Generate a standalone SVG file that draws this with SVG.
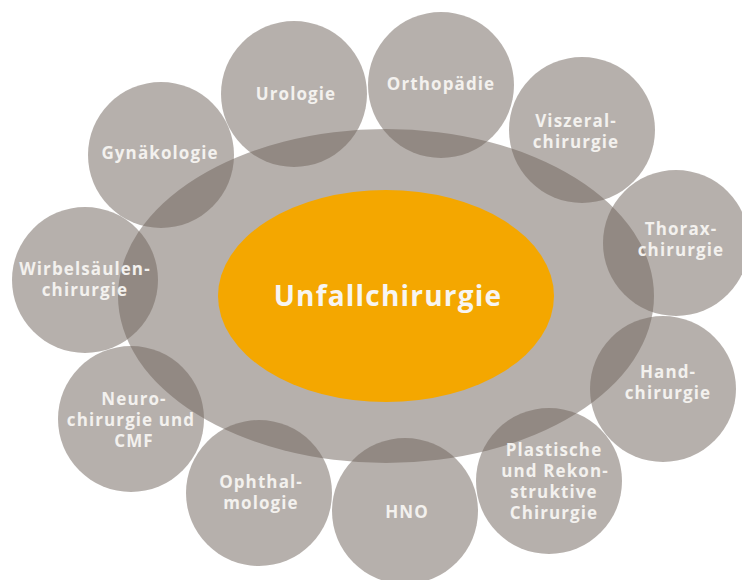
<svg xmlns="http://www.w3.org/2000/svg" width="742" height="580" viewBox="0 0 742 580">
<style>
.bub{fill:#70645c;fill-opacity:0.51}
.lbl{font-family:"Open Sans","Liberation Sans",sans-serif;font-weight:700;font-size:17px;letter-spacing:1.1px;fill:#f3f1ee;text-anchor:middle}
.main{font-family:"Open Sans","Liberation Sans",sans-serif;font-weight:700;font-size:28px;letter-spacing:1.2px;fill:#f7f5f2;text-anchor:middle}
</style>
<rect width="742" height="580" fill="#ffffff"/>
<g id="outer"><ellipse class="bub" cx="386" cy="296" rx="268" ry="167"/></g>
<g id="urologie"><circle class="bub" cx="294" cy="94" r="73"/><text class="lbl" x="296" y="100">Urologie</text></g>
<g id="orthopaedie"><circle class="bub" cx="441" cy="85" r="73"/><text class="lbl" x="441" y="90">Orthopädie</text></g>
<g id="viszeral"><circle class="bub" cx="582" cy="130" r="73"/><text class="lbl" x="576" y="126.5">Viszeral-</text><text class="lbl" x="576" y="147.5">chirurgie</text></g>
<g id="thorax"><circle class="bub" cx="676" cy="243" r="73"/><text class="lbl" x="681" y="235">Thorax-</text><text class="lbl" x="681" y="256">chirurgie</text></g>
<g id="hand"><circle class="bub" cx="663" cy="389" r="73"/><text class="lbl" x="668" y="378">Hand-</text><text class="lbl" x="668" y="399">chirurgie</text></g>
<g id="plastische"><circle class="bub" cx="549" cy="481" r="73"/><text class="lbl" x="554" y="456">Plastische</text><text class="lbl" x="555" y="477">und Rekon-</text><text class="lbl" x="554" y="498">struktive</text><text class="lbl" x="554" y="519">Chirurgie</text></g>
<g id="hno"><circle class="bub" cx="405" cy="511" r="73"/><text class="lbl" x="407" y="518">HNO</text></g>
<g id="ophthalmologie"><circle class="bub" cx="259" cy="493" r="73"/><text class="lbl" x="261" y="487.5">Ophthal-</text><text class="lbl" x="261" y="508.5">mologie</text></g>
<g id="neuro"><circle class="bub" cx="131" cy="419" r="73"/><text class="lbl" x="134" y="405">Neuro-</text><text class="lbl" x="131" y="426">chirurgie und</text><text class="lbl" x="134" y="447">CMF</text></g>
<g id="wirbelsaeulen"><circle class="bub" cx="85" cy="280" r="73"/><text class="lbl" x="85" y="274.5">Wirbelsäulen-</text><text class="lbl" x="85" y="295.5">chirurgie</text></g>
<g id="gynaekologie"><circle class="bub" cx="161" cy="155" r="73"/><text class="lbl" x="160" y="159">Gynäkologie</text></g>
<g id="center"><ellipse cx="386" cy="296" rx="168" ry="106" fill="#f4a700"/><text class="main" x="388" y="306">Unfallchirurgie</text></g>
</svg>
